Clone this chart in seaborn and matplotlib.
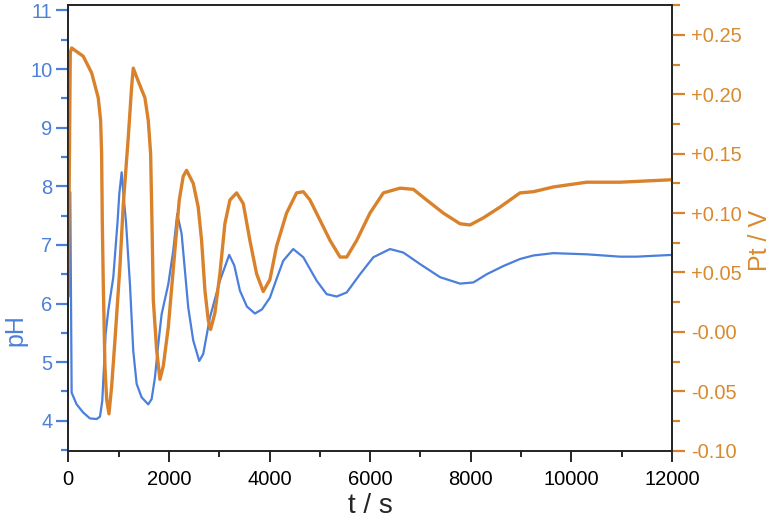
import matplotlib
matplotlib.use("Agg")
import matplotlib.pyplot as plt
from matplotlib.ticker import MultipleLocator, FixedLocator, FixedFormatter
import seaborn as sns
import pandas as pd

# ---- data ----
ph_t = [40, 67, 166, 298, 431, 564, 630, 676, 709, 742,
        795, 895, 981, 1014, 1061, 1107, 1146, 1226, 1292, 1359,
        1458, 1590, 1657, 1723, 1789, 1856, 1988, 2086, 2166, 2253,
        2385, 2484, 2603, 2683, 2815, 3014, 3199, 3300, 3412, 3550,
        3710, 3850, 4008, 4140, 4273, 4471, 4672, 4937, 5136, 5335,
        5535, 5799, 6064, 6395, 6660, 6998, 7390, 7788, 8052, 8317,
        8648, 8979, 9245, 9642, 10306, 10968, 11300, 12000]
ph_v = [7.9, 4.48, 4.28, 4.14, 4.04, 4.03, 4.07, 4.34, 4.91, 5.48,
        5.88, 6.45, 7.41, 7.87, 8.24, 7.76, 7.41, 6.33, 5.19, 4.63,
        4.40, 4.28, 4.37, 4.74, 5.31, 5.82, 6.33, 6.90, 7.53, 7.19,
        5.93, 5.37, 5.02, 5.14, 5.76, 6.39, 6.83, 6.65, 6.22, 5.95,
        5.83, 5.90, 6.10, 6.42, 6.73, 6.93, 6.79, 6.39, 6.16, 6.12,
        6.19, 6.50, 6.79, 6.93, 6.87, 6.67, 6.45, 6.34, 6.36, 6.50,
        6.64, 6.76, 6.82, 6.86, 6.84, 6.80, 6.80, 6.83]

pt_t = [0, 40, 67, 166, 298, 465, 596, 643, 663, 676,
        696, 729, 763, 809, 862, 928, 1027, 1093, 1193, 1259,
        1292, 1391, 1524, 1590, 1637, 1663, 1690, 1756, 1822, 1888,
        1988, 2120, 2206, 2285, 2352, 2484, 2583, 2650, 2716, 2782,
        2829, 2915, 3014, 3113, 3213, 3346, 3478, 3610, 3743, 3875,
        4008, 4140, 4339, 4538, 4672, 4805, 5004, 5203, 5402, 5535,
        5733, 5997, 6263, 6594, 6859, 7124, 7455, 7787, 7986, 8251,
        8581, 8979, 9245, 9642, 10306, 10968, 11962, 12000]
pt_v = [0.030, 0.235, 0.239, 0.236, 0.232, 0.218, 0.197, 0.178, 0.150, 0.094,
        0.040, -0.029, -0.057, -0.069, -0.046, -0.007, 0.055, 0.107, 0.164, 0.206,
        0.222, 0.211, 0.197, 0.178, 0.150, 0.094, 0.027, -0.015, -0.040, -0.029,
        0.004, 0.069, 0.111, 0.131, 0.136, 0.125, 0.105, 0.077, 0.035, 0.010,
        0.002, 0.016, 0.049, 0.091, 0.111, 0.117, 0.108, 0.077, 0.049, 0.034,
        0.044, 0.072, 0.100, 0.117, 0.118, 0.111, 0.094, 0.077, 0.063, 0.063,
        0.077, 0.100, 0.117, 0.121, 0.120, 0.111, 0.100, 0.091, 0.090, 0.096,
        0.105, 0.117, 0.118, 0.122, 0.126, 0.126, 0.128, 0.128]

x_ticks = [0, 2000, 4000, 6000, 8000, 10000, 12000]
ph_ticks = [4, 5, 6, 7, 8, 9, 10, 11]
pt_ticks = [-0.10, -0.05, 0.00, 0.05, 0.10, 0.15, 0.20, 0.25]
pt_labels = ["-0.10", "-0.05", "-0.00", "+0.05", "+0.10", "+0.15", "+0.20", "+0.25"]

BLUE = "#4a7fdc"
ORANGE = "#d9822b"
BLUE_TXT = "#4d80d8"
ORANGE_TXT = "#d98a2e"

sns.set_style("ticks")
plt.rcParams["font.family"] = ["Liberation Sans Narrow", "Liberation Sans", "DejaVu Sans"]

df_ph = pd.DataFrame({"t": ph_t, "pH": ph_v})
df_pt = pd.DataFrame({"t": pt_t, "Pt": pt_v})

fig = plt.figure(figsize=(7.74, 5.21), dpi=100)
ax = fig.add_axes([0.0882, 0.135, 0.780, 0.855])
ax2 = ax.twinx()

sns.lineplot(data=df_ph, x="t", y="pH", ax=ax, color=BLUE, linewidth=1.6, estimator=None)
sns.lineplot(data=df_pt, x="t", y="Pt", ax=ax2, color=ORANGE, linewidth=2.4, estimator=None)

ax.set_xlim(0, 12000)
ax.set_ylim(3.49, 11.09)
ax2.set_ylim(-0.10, 0.275)

ax.xaxis.set_major_locator(FixedLocator(x_ticks))
ax.xaxis.set_minor_locator(MultipleLocator(1000))
ax.yaxis.set_major_locator(FixedLocator(ph_ticks))
ax.yaxis.set_minor_locator(MultipleLocator(0.5))
ax2.yaxis.set_major_locator(FixedLocator(pt_ticks))
ax2.yaxis.set_major_formatter(FixedFormatter(pt_labels))
ax2.yaxis.set_minor_locator(MultipleLocator(0.025))

fs = 14.5
ax.tick_params(axis="x", which="major", direction="out", length=8, width=1.2, colors="black", labelsize=fs, pad=6)
ax.tick_params(axis="x", which="minor", direction="out", length=4.5, width=1.2, colors="black")
ax.tick_params(axis="y", which="major", direction="out", length=8.5, width=1.6, color=BLUE, labelcolor=BLUE_TXT, labelsize=fs, pad=3)
ax.tick_params(axis="y", which="minor", direction="out", length=5, width=1.6, color=BLUE)
ax2.tick_params(axis="y", which="major", direction="out", length=9, width=1.6, color=ORANGE, labelcolor=ORANGE_TXT, labelsize=fs, pad=5)
ax2.tick_params(axis="y", which="minor", direction="out", length=5.5, width=1.6, color=ORANGE)

for a in (ax, ax2):
    for s in a.spines.values():
        s.set_color("#222222")
        s.set_linewidth(1.2)
        s.set_visible(True)

ax.set_xlabel("t / s", fontsize=20)
ax.xaxis.set_label_coords(0.5, -0.124)
ax.xaxis.label.set_verticalalignment("center")
ax.set_ylabel("pH", fontsize=18, color=BLUE_TXT)
ax.yaxis.set_label_coords(-0.088, 0.27)
ax.yaxis.label.set_verticalalignment("center")
ax2.set_ylabel("Pt / V", fontsize=18, color=ORANGE_TXT)
ax2.yaxis.set_label_coords(1.145, 0.473)
ax2.yaxis.label.set_verticalalignment("center")

fig.savefig("out.png", dpi=100)
